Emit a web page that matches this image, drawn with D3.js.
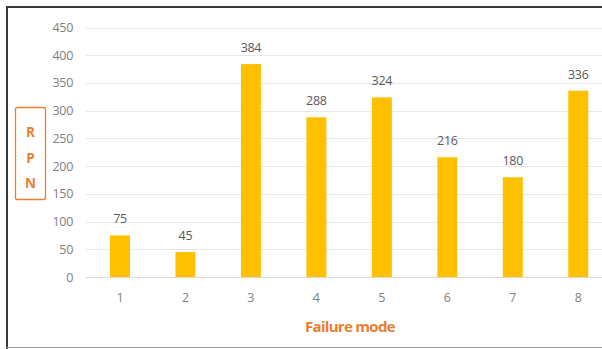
<!DOCTYPE html>
<html><head><meta charset="utf-8">
<script src="https://cdn.jsdelivr.net/npm/d3@7"></script>
<style>body{margin:0;background:#fff;}svg{display:block;}</style>
</head><body>
<svg id="c" width="602" height="349"></svg>
<script>
const categories = ["1","2","3","4","5","6","7","8"];
const rpnValues = [75,45,384,288,324,216,180,336];
const yTicks = [0,50,100,150,200,250,300,350,400,450];
const xTitle = "Failure mode";
const yTitleLetters = ["R","P","N"];

(function(){
const svg = d3.select("#c");
const pLeft = 87.25, pRight = 611, pTop = 27.5, pBottom = 277;

svg.append("rect").attr("x",0).attr("y",0).attr("width",602).attr("height",349).attr("fill","#fff");
// borders
svg.append("line").attr("x1",7).attr("x2",7).attr("y1",6).attr("y2",349).attr("stroke","#3a3a3a").attr("stroke-width",2);
svg.append("line").attr("x1",6).attr("x2",602).attr("y1",7).attr("y2",7).attr("stroke","#3a3a3a").attr("stroke-width",2);
svg.append("line").attr("x1",6).attr("x2",602).attr("y1",347.5).attr("y2",347.5).attr("stroke","#999").attr("stroke-width",1);

const x = d3.scaleBand().domain(categories).range([pLeft,pRight]).paddingInner(0.695).paddingOuter(0.3475);
const y = d3.scaleLinear().domain([0,450]).range([pBottom,pTop]);

// gridlines
svg.append("g").selectAll("line").data(yTicks).join("line")
  .attr("x1",86).attr("x2",602)
  .attr("y1",d=>Math.round(y(d))+0.5).attr("y2",d=>Math.round(y(d))+0.5)
  .attr("stroke",d=>d===0?"#d9d9d9":"#e8e8e8").attr("stroke-width",1);

const tickFont = "Open Sans, sans-serif";
// y tick labels
const yAxis = d3.axisLeft(y).tickValues(yTicks).tickSize(0).tickPadding(0);
const gy = svg.append("g").attr("transform","translate(73,0)").call(yAxis);
gy.select(".domain").remove();
gy.selectAll("text").attr("font-family",tickFont).attr("font-size",12.5).attr("letter-spacing","-0.3").attr("fill","#808080");

// x tick labels
const xAxis = d3.axisBottom(x).tickSize(0).tickPadding(0);
const gx = svg.append("g").attr("transform","translate(0,293)").call(xAxis);
gx.select(".domain").remove();
gx.selectAll("text").attr("font-family",tickFont).attr("font-size",12.5).attr("fill","#808080");

// bars
svg.append("g").selectAll("rect").data(rpnValues).join("rect")
  .attr("x",(d,i)=>x(categories[i])).attr("width",x.bandwidth())
  .attr("y",d=>y(d)).attr("height",d=>pBottom-y(d))
  .attr("fill","#FFC000");

// data labels
svg.append("g").selectAll("text").data(rpnValues).join("text")
  .attr("x",(d,i)=>x(categories[i])+x.bandwidth()/2)
  .attr("y",d=>y(d)-12)
  .attr("text-anchor","middle")
  .attr("font-family",tickFont).attr("font-size",12.5).attr("letter-spacing","-0.3").attr("fill","#595959")
  .text(d=>d);

// x title
svg.append("text").attr("x",350).attr("y",332).attr("text-anchor","middle")
  .attr("font-family","Open Sans, sans-serif").attr("font-size",15).attr("font-weight","bold")
  .attr("letter-spacing","-0.7").attr("fill","#ED7D31").text(xTitle);

// y title box
svg.append("rect").attr("x",15.5).attr("y",107.5).attr("width",30).attr("height",92).attr("rx",2)
  .attr("fill","none").attr("stroke","#ED7D31").attr("stroke-width",1.3);
svg.append("g").selectAll("text").data(yTitleLetters).join("text")
  .attr("x",30.5).attr("y",(d,i)=>137+i*25.5).attr("text-anchor","middle")
  .attr("font-family","Open Sans, sans-serif").attr("font-size",13.5).attr("font-weight","bold")
  .attr("fill","#ED7D31").text(d=>d);
})();
</script>
</body></html>
